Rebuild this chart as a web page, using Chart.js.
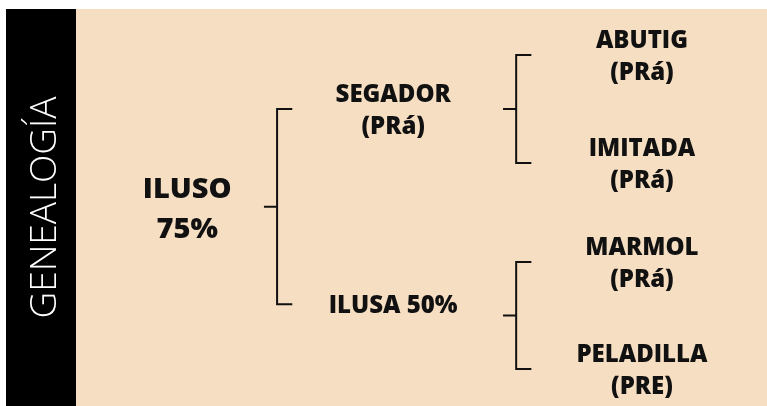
<!DOCTYPE html>
<html>
<head>
<meta charset="utf-8">
<script src="https://cdn.jsdelivr.net/npm/chart.js@4"></script>
<style>
  html, body { margin: 0; padding: 0; background: #fff; }
  #wrap { position: relative; width: 767px; height: 406px; }
</style>
</head>
<body>
<div id="wrap"><canvas id="genealogy-chart"></canvas></div>
<script>
'use strict';

// ---- pedigree data (child first, then its parents) ----
const names      = ['ILUSO', 'SEGADOR', 'ILUSA 50%', 'ABUTIG', 'IMITADA', 'MARMOL', 'PELADILLA'];
const notes      = ['75%', '(PRá)', '', '(PRá)', '(PRá)', '(PRá)', '(PRE)'];
const parentOf   = [null, 0, 0, 1, 1, 2, 2];
const generation = [0, 1, 1, 2, 2, 2, 2];
const rowPos     = [50, 25.2, 74.4, 11.6, 38.8, 63.7, 90.7]; // 0 = top of panel, 100 = bottom

// layout along the horizontal axis (0..100 across the beige panel)
const COLS = {
  label:   [16.1, 45.9, 81.9],
  bracket: [29.1, 63.7],
  arm: 2.2,
  tick: 1.9,
};

const INK = '#111';
const PANEL = '#F5DEC1';

// one bracket per parent pair: ⊏ shape plus the stub pointing back to the child
const bracketSets = [];
names.forEach((_, p) => {
  const kids = parentOf.map((q, i) => (q === p ? i : -1)).filter(i => i >= 0);
  if (!kids.length) return;
  const bx = COLS.bracket[generation[p]];
  const top = rowPos[kids[0]];
  const bot = rowPos[kids[kids.length - 1]];
  const mid = (top + bot) / 2;
  bracketSets.push({
    label: names[p],
    data: [
      { x: bx + COLS.arm, y: top }, { x: bx, y: top }, { x: bx, y: mid },
      { x: bx - COLS.tick, y: mid }, { x: bx, y: mid },
      { x: bx, y: bot }, { x: bx + COLS.arm, y: bot },
    ],
    showLine: true,
    borderColor: INK,
    borderWidth: 2,
    borderJoinStyle: 'miter',
    borderCapStyle: 'butt',
    pointRadius: 0,
    tension: 0,
  });
});

// panel backgrounds: black title strip + beige body
const panelBg = {
  id: 'panelBg',
  beforeDraw(chart) {
    const { ctx, chartArea, scales } = chart;
    ctx.save();
    ctx.fillStyle = '#000';
    ctx.fillRect(scales.y.left, chartArea.top, chartArea.left - scales.y.left, chart.height - chartArea.top);
    ctx.fillStyle = PANEL;
    ctx.fillRect(chartArea.left, chartArea.top, chartArea.right - chartArea.left, chart.height - chartArea.top);
    ctx.restore();
  }
};

// horse names next to the brackets
const nameLabels = {
  id: 'nameLabels',
  afterDatasetsDraw(chart) {
    const { ctx, scales: { x, y } } = chart;
    ctx.save();
    ctx.fillStyle = INK;
    ctx.textAlign = 'center';
    ctx.textBaseline = 'middle';
    names.forEach((name, i) => {
      const isRoot = parentOf[i] === null;
      const size = isRoot ? 29 : 24;
      const gap = isRoot ? 20 : 16;
      ctx.font = `800 ${size}px "Open Sans", "DejaVu Sans", sans-serif`;
      const px = x.getPixelForValue(COLS.label[generation[i]]);
      const py = y.getPixelForValue(rowPos[i]) + 2;
      if (notes[i]) {
        ctx.fillText(name, px, py - gap);
        ctx.fillText(notes[i], px, py + gap);
      } else {
        ctx.fillText(name, px, py);
      }
    });
    ctx.restore();
  }
};

new Chart(document.getElementById('genealogy-chart'), {
  type: 'scatter',
  data: { datasets: bracketSets },
  options: {
    responsive: true,
    maintainAspectRatio: false,
    animation: false,
    layout: { padding: { left: 6, top: 9, right: 0, bottom: 0 } },
    plugins: { legend: { display: false }, tooltip: { enabled: false } },
    scales: {
      x: { type: 'linear', min: 0, max: 100, display: false },
      y: {
        type: 'linear', min: 0, max: 100, reverse: true,
        grid: { display: false, drawTicks: false },
        border: { display: false },
        ticks: { display: false },
        title: {
          display: true,
          text: 'GENEALOGÍA',
          color: '#fff',
          font: { family: '"Open Sans", "DejaVu Sans", sans-serif', size: 37, weight: 300, lineHeight: 1.1 },
          padding: { top: 19.5, bottom: 9.8 },
        },
      },
    },
  },
  plugins: [panelBg, nameLabels],
});
</script>
</body>
</html>
